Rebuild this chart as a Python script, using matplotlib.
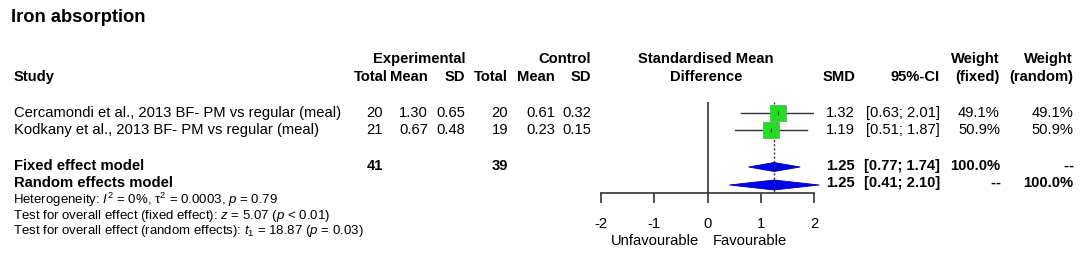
import numpy as np
import matplotlib
matplotlib.use("Agg")
import matplotlib.pyplot as plt
from matplotlib.patches import Polygon

plt.rcParams['font.family'] = ['Liberation Sans', 'DejaVu Sans']
plt.rcParams['mathtext.fontset'] = 'custom'
plt.rcParams['mathtext.rm'] = 'Liberation Sans'
plt.rcParams['mathtext.it'] = 'Liberation Sans:italic'
plt.rcParams['mathtext.bf'] = 'Liberation Sans:bold'

# data
studies = ["Cercamondi et al., 2013 BF- PM vs regular (meal)",
           "Kodkany et al., 2013 BF- PM vs regular (meal)"]
exp_n = [20, 21]
exp_mean = [1.30, 0.67]
exp_sd = [0.65, 0.48]
ctl_n = [20, 19]
ctl_mean = [0.61, 0.23]
ctl_sd = [0.32, 0.15]
smd = [1.32, 1.19]
ci_lo = [0.63, 0.51]
ci_hi = [2.01, 1.87]
w_fixed = [49.1, 50.9]
w_random = [49.1, 50.9]
exp_total = 41
ctl_total = 39
fixed_est = [1.25, 0.77, 1.74]
random_est = [1.25, 0.41, 2.10]
xticks = [-2, -1, 0, 1, 2]

W, H = 1084, 258
fig = plt.figure(figsize=(W/100, H/100), dpi=100)
fs = 10.6

def t(x, y, s, ha='right', bold=False, size=fs, **kw):
    fig.text(x/W, 1 - y/H, s, ha=ha, va='center', fontsize=size,
             fontweight='bold' if bold else 'normal', **kw)

def dashes(x, y):
    # "--" placeholder, drawn as two hyphens so they don't merge
    t(x, y, "-", bold=True)
    t(x - 5, y, "-", bold=True)

# title
t(11, 18, "Iron absorption", ha='left', bold=True, size=13.2)

# headers
y1, y2 = 59, 77
t(465, y1, "Experimental", bold=True)
t(591, y1, "Control", bold=True)
t(706, y1, "Standardised Mean", ha='center', bold=True)
t(1000, y1, "Weight", bold=True)
t(1073, y1, "Weight", bold=True)
t(14, y2, "Study", ha='left', bold=True)
for xx, lab in zip([388, 428, 465, 508, 555, 591],
                   ["Total", "Mean", "SD", "Total", "Mean", "SD"]):
    t(xx, y2, lab, bold=True)
t(706, y2, "Difference", ha='center', bold=True)
t(855, y2, "SMD", bold=True)
t(940, y2, "95%-CI", bold=True)
t(1000, y2, "(fixed)", bold=True)
t(1073, y2, "(random)", bold=True)

row_y = [113, 130]
fixed_y, random_y = 166, 183

for i in range(len(studies)):
    y = row_y[i]
    t(14, y, studies[i], ha='left')
    t(383, y, f"{exp_n[i]}")
    t(428, y, f"{exp_mean[i]:.2f}")
    t(465, y, f"{exp_sd[i]:.2f}")
    t(508, y, f"{ctl_n[i]}")
    t(555, y, f"{ctl_mean[i]:.2f}")
    t(591, y, f"{ctl_sd[i]:.2f}")
    t(855, y, f"{smd[i]:.2f}")
    t(940, y, f"[{ci_lo[i]:.2f}; {ci_hi[i]:.2f}]")
    t(1000, y, f"{w_fixed[i]:.1f}%")
    t(1073, y, f"{w_random[i]:.1f}%")

t(14, fixed_y, "Fixed effect model", ha='left', bold=True)
t(383, fixed_y, f"{exp_total}", bold=True)
t(508, fixed_y, f"{ctl_total}", bold=True)
t(855, fixed_y, f"{fixed_est[0]:.2f}", bold=True)
t(940, fixed_y, f"[{fixed_est[1]:.2f}; {fixed_est[2]:.2f}]", bold=True)
t(1000, fixed_y, f"{sum(w_fixed):.1f}%", bold=True)
dashes(1073, fixed_y)

t(14, random_y, "Random effects model", ha='left', bold=True)
t(855, random_y, f"{random_est[0]:.2f}", bold=True)
t(940, random_y, f"[{random_est[1]:.2f}; {random_est[2]:.2f}]", bold=True)
dashes(1000, random_y)
t(1073, random_y, f"{sum(w_random):.1f}%", bold=True)

sfs = 9.5
t(13, 200, r"Heterogeneity: $I^2$ = 0%, τ$^2$ = 0.0003, $p$ = 0.79", ha='left', size=sfs)
t(13, 215.5, r"Test for overall effect (fixed effect): $z$ = 5.07 ($p$ < 0.01)", ha='left', size=sfs)
t(13, 231, r"Test for overall effect (random effects): $t_1$ = 18.87 ($p$ = 0.03)", ha='left', size=sfs)

# forest panel: x in SMD units, y in pixel rows
x0, x1 = 601, 814
top, bot = 102, 193
ax = fig.add_axes([x0/W, 1 - bot/H, (x1 - x0)/W, (bot - top)/H])
ax.set_xlim(-2, 2)
ax.set_ylim(bot, top)
ax.patch.set_visible(False)
for s in ['top', 'right', 'left']:
    ax.spines[s].set_visible(False)
ax.spines['bottom'].set_color('#333333')
ax.spines['bottom'].set_linewidth(1.2)
ax.spines['bottom'].set_bounds(-2, 2)
ax.set_yticks([])
ax.set_xticks(xticks)
ax.set_xticklabels([str(v) for v in xticks], fontsize=fs)
ax.tick_params(axis='x', length=7, width=1.2, color='#333333', pad=10.5)

ax.axvline(0, color='#333333', lw=1.2)
ax.plot([fixed_est[0], fixed_est[0]], [top, bot], color='#333333', lw=1.0,
        ls=(0, (1.5, 1.5)))

for i in range(len(studies)):
    y = row_y[i]
    ax.plot([ci_lo[i], ci_hi[i]], [y, y], color='#333333', lw=1.0)
    ms = 11 * np.sqrt(w_fixed[i] / 50)
    ax.plot(smd[i], y, marker='s', ms=ms, mfc='#22dd22', mec='#55bb55', mew=0.6)
    ax.plot(smd[i], y, marker='|', ms=3, color='#333333', mew=0.8)

for est, yy, hh in [(fixed_est, fixed_y + 1, 4.5), (random_est, random_y + 2, 5)]:
    poly = Polygon([[est[1], yy], [est[0], yy - hh], [est[2], yy], [est[0], yy + hh]],
                   closed=True, fc='#0000ee', ec='#0000aa', lw=0.6, clip_on=False)
    ax.add_patch(poly)

t(699, 241, "Unfavourable", size=fs)
t(713, 241, "Favourable", ha='left', size=fs)

fig.savefig("out.png", dpi=100)
